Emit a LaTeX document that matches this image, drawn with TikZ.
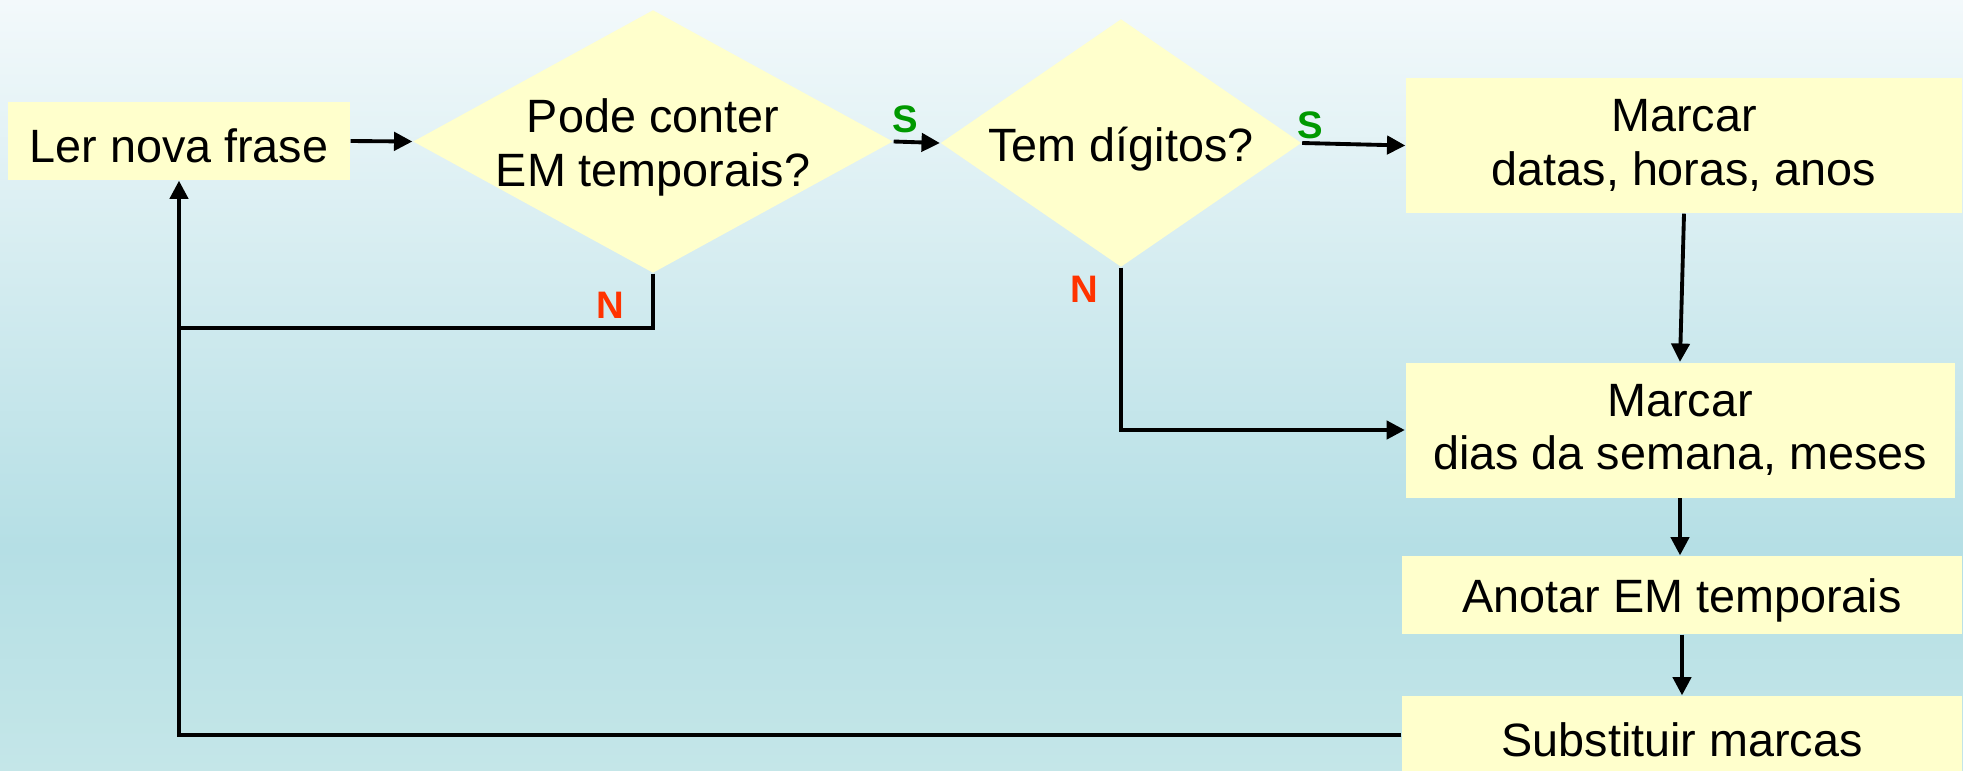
\documentclass[tikz,border=0pt]{standalone}
\usepackage{fontspec}
\setmainfont{Liberation Sans}
\usetikzlibrary{shapes.geometric,arrows.meta}

\definecolor{caixaamarela}{RGB}{255,255,204}
\definecolor{simverde}{RGB}{0,153,0}
\definecolor{naovermelho}{RGB}{255,51,0}
\definecolor{fundotopo}{RGB}{243,249,251}
\definecolor{fundomeio}{RGB}{181,223,229}
\definecolor{fundobaixo}{RGB}{196,230,232}

\begin{document}
\begin{tikzpicture}[
    every node/.style={font=\fontsize{13.3}{15.3}\selectfont},
    caixa/.style={rectangle,fill=caixaamarela,inner sep=0pt,align=center,
                  execute at begin node={\rule{0pt}{0.44cm}}},
    decisao/.style={diamond,fill=caixaamarela,inner sep=0pt},
    texto/.style={align=center,yshift=-0.06cm},
    seta/.style={line width=1.1pt,-{Triangle[length=5.2pt,width=5.2pt]}},
    linha/.style={line width=1.1pt},
    sim/.style={font=\fontsize{10.9}{12}\selectfont\bfseries,text=simverde},
    nao/.style={font=\fontsize{10.9}{12}\selectfont\bfseries,text=naovermelho}]

    % 背景渐变
    \useasboundingbox (0,0) rectangle (19.63,-7.70);
    \shade[top color=fundotopo,bottom color=fundomeio] (0,0) rectangle (19.63,-5.47);
    \shade[top color=fundomeio,bottom color=fundobaixo] (0,-5.47) rectangle (19.63,-7.70);

    % 第一行：读句子与两个判断
    \node[caixa,minimum width=3.42cm,minimum height=0.78cm] (ler) at (1.79,-1.41) {Ler nova frase};
    \node[decisao,minimum width=4.80cm,minimum height=2.63cm,
          label={[texto]center:Pode conter\\EM temporais?}] (q1) at (6.53,-1.415) {};
    \node[decisao,minimum width=3.61cm,minimum height=2.48cm,
          label={[texto]center:Tem dígitos?}] (q2) at (11.21,-1.43) {};

    % 右侧一列
    \node[caixa,minimum width=5.56cm,minimum height=1.35cm] (m1) at (16.84,-1.455) {Marcar\\datas, horas, anos};
    \node[caixa,minimum width=5.49cm,minimum height=1.35cm] (m2) at (16.80,-4.30) {Marcar\\dias da semana, meses};
    \node[caixa,minimum width=5.60cm,minimum height=0.78cm] (an) at (16.82,-5.95) {Anotar EM temporais};
    \node[caixa,minimum width=5.60cm,minimum height=0.78cm] (sub) at (16.82,-7.35) {Substituir marcas};

    % 连线
    \draw[seta] (ler.east) -- (q1.west);
    \draw[seta] (q1.east) -- (q2.west);
    \draw[seta] (q2.east) -- (m1.west);
    \draw[seta] (m1.south) -- (m2.north);
    \draw[seta] (m2.south) -- (m2.south |- an.north);
    \draw[seta] (an.south) -- (sub.north);
    \draw[seta] (q2.south) |- (m2.west);

    % 回到开头
    \coordinate (volta) at (1.79,-3.28);
    \draw[linha] (q1.south) |- (volta);
    \draw[seta] (sub.west) -| (ler.south);

    % S / N 标记
    \node[sim] (s1) at (9.05,-1.19) {S};
    \node[sim] (s2) at (13.10,-1.25) {S};
    \node[nao] (n1) at (6.10,-3.05) {N};
    \node[nao] (n2) at (10.84,-2.89) {N};

\end{tikzpicture}
\end{document}
